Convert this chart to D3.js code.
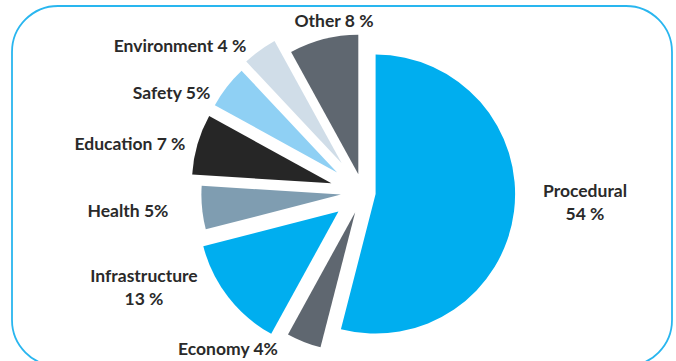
<!DOCTYPE html>
<html>
<head>
<meta charset="utf-8">
<script src="https://cdn.jsdelivr.net/npm/d3@7"></script>
<style>
  html, body { margin: 0; padding: 0; background: #ffffff; }
  svg { display: block; }
  text { font-family: Lato, "Open Sans", sans-serif; font-weight: 700; fill: #2a2a2a; }
</style>
</head>
<body>
<svg id="chart" width="676" height="361"></svg>
<script>
// ---- data ----
const categories = ["Procedural", "Economy", "Infrastructure", "Health", "Education", "Safety", "Environment", "Other"];
const values = [54, 4, 13, 5, 7, 5, 4, 8];
const labelLines = [
  ["Procedural", "54 %"],
  ["Economy 4%"],
  ["Infrastructure", "13 %"],
  ["Health 5%"],
  ["Education 7 %"],
  ["Safety 5%"],
  ["Environment 4 %"],
  ["Other 8 %"]
];

// ---- style / layout ----
const colors = ["#00aeef", "#5f6770", "#00aeef", "#7f9db1", "#262626", "#8fd0f4", "#d0dde8", "#5f6770"];
const explode = [12.7, 21.2, 31.1, 22.2, 32.9, 32.8, 36.2, 18.9];
const labelAnchor = [
  [585, 197], [228, 355], [144, 282], [128, 216.5],
  [130, 150], [171.5, 98.5], [180, 52], [334, 27]
];
const W = 676, H = 361;
const cx = 363, cy = 192.5, R = 139.5;

const svg = d3.select("#chart");

// rounded frame
svg.append("rect")
  .attr("x", 12).attr("y", 6)
  .attr("width", 660).attr("height", 360)
  .attr("rx", 46).attr("ry", 46)
  .attr("fill", "none")
  .attr("stroke", "#29b6ef")
  .attr("stroke-width", 1.8);

const pie = d3.pie().sort(null).value(d => d);
const arcs = pie(values);
const arc = d3.arc().innerRadius(0).outerRadius(R);

const g = svg.append("g").attr("transform", `translate(${cx},${cy})`);

g.selectAll("path.slice")
  .data(arcs)
  .join("path")
  .attr("class", "slice")
  .attr("d", arc)
  .attr("fill", (d, i) => colors[i])
  .attr("transform", (d, i) => {
    const a = (d.startAngle + d.endAngle) / 2;
    const dx = Math.sin(a) * explode[i];
    const dy = -Math.cos(a) * explode[i];
    return `translate(${dx},${dy})`;
  });

// labels
const lineGap = 22.5;
categories.forEach((c, i) => {
  const [x, y] = labelAnchor[i];
  const t = svg.append("text")
    .attr("x", x).attr("y", y)
    .attr("text-anchor", "middle")
    .attr("font-size", 17.5);
  labelLines[i].forEach((ln, k) => {
    t.append("tspan").attr("x", x).attr("y", y + k * lineGap).text(ln);
  });
});
</script>
</body>
</html>
